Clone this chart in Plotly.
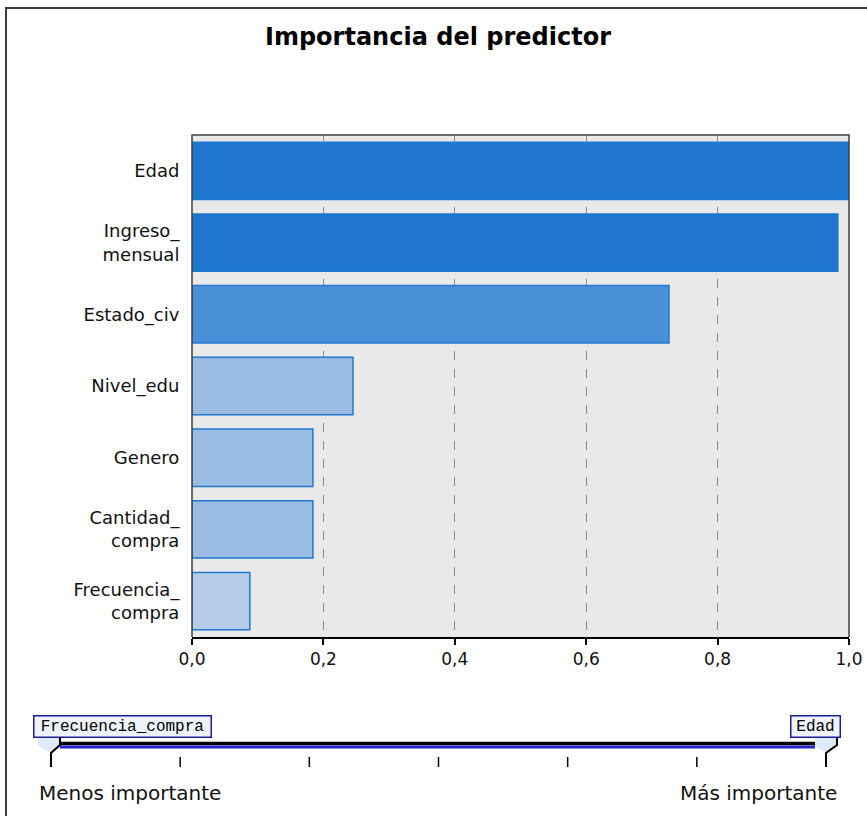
import plotly.graph_objects as go

# ---- data ----
predictors = ["Edad", "Ingreso_<br>mensual", "Estado_civ", "Nivel_edu", "Genero",
              "Cantidad_<br>compra", "Frecuencia_<br>compra"]
importance = [1.0, 0.983, 0.726, 0.245, 0.184, 0.184, 0.088]
bar_colors = ["#1e76cf", "#1e76cf", "#4a90d8", "#9cbde3", "#9cbde3", "#9cbde3", "#b5cce8"]
x_ticks = [0.0, 0.2, 0.4, 0.6, 0.8, 1.0]
least_label = "Frecuencia_compra"
most_label = "Edad"
title_text = "Importancia del predictor"
less_text = "Menos importante"
more_text = "Más importante"

W, H = 867, 816
def px(x):
    return x / W
def py(y):
    return 1 - y / H

fig = go.Figure()
fig.add_trace(go.Bar(
    x=importance, y=predictors, orientation="h",
    marker=dict(color=bar_colors, line=dict(color="#1e78d2", width=1.5)),
    hoverinfo="x+y",
))

FONT = "DejaVu Sans"
shapes = []
# outer frame
shapes.append(dict(type="rect", xref="paper", yref="paper",
                   x0=px(6), x1=1.05, y0=-0.05, y1=py(8),
                   line=dict(color="#3c3c3c", width=2), layer="below"))

# importance scale decoration
shapes.append(dict(type="path", xref="paper", yref="paper",
                   path=f"M {px(38)} {py(736)} L {px(60)} {py(736)} L {px(60)} {py(745)} L {px(51)} {py(753)} L {px(38)} {py(746)} Z",
                   fillcolor="#dfeaf8", line=dict(width=0)))
shapes.append(dict(type="path", xref="paper", yref="paper",
                   path=f"M {px(815)} {py(736)} L {px(837)} {py(736)} L {px(837)} {py(745)} L {px(826)} {py(753)} L {px(815)} {py(746)} Z",
                   fillcolor="#dfeaf8", line=dict(width=0)))
shapes.append(dict(type="line", xref="paper", yref="paper",
                   x0=px(60), x1=px(815), y0=py(743.5), y1=py(743.5),
                   line=dict(color="#000000", width=3.5)))
shapes.append(dict(type="line", xref="paper", yref="paper",
                   x0=px(60), x1=px(815), y0=py(747), y1=py(747),
                   line=dict(color="#2424c8", width=3)))
shapes.append(dict(type="path", xref="paper", yref="paper",
                   path=f"M {px(60)} {py(737)} L {px(60)} {py(745)} L {px(51)} {py(753)} L {px(51)} {py(767)}",
                   line=dict(color="#000000", width=2)))
shapes.append(dict(type="path", xref="paper", yref="paper",
                   path=f"M {px(837)} {py(737)} L {px(837)} {py(745)} L {px(826)} {py(753)} L {px(826)} {py(767)}",
                   line=dict(color="#000000", width=2)))
n_ticks = 7
for i in range(1, n_ticks - 1):
    xx = 51 + (826 - 51) * i / (n_ticks - 1)
    shapes.append(dict(type="line", xref="paper", yref="paper",
                       x0=px(xx), x1=px(xx), y0=py(757), y1=py(767),
                       line=dict(color="#000000", width=1.5)))
# plot border (top/left/right)
shapes.append(dict(type="path", xref="paper", yref="paper",
                   path=f"M {px(192)} {py(637)} L {px(192)} {py(135)} L {px(849)} {py(135)} L {px(849)} {py(637)}",
                   line=dict(color="#404040", width=1.5)))

annotations = [
    dict(text=f"<b>{title_text}</b>", xref="paper", yref="paper", x=px(438), y=py(37),
         xanchor="center", yanchor="middle", showarrow=False,
         font=dict(family=FONT, size=24, color="#000")),
    dict(text=least_label, xref="paper", yref="paper", x=px(33), y=py(726),
         xanchor="left", yanchor="middle", showarrow=False, width=174, align="center",
         font=dict(family="Liberation Mono", size=16, color="#000"),
         bgcolor="#eef3fb", bordercolor="#1c1c96", borderwidth=1.5, borderpad=1),
    dict(text=most_label, xref="paper", yref="paper", x=px(841), y=py(726),
         xanchor="right", yanchor="middle", showarrow=False, width=46, align="center",
         font=dict(family="Liberation Mono", size=16, color="#000"),
         bgcolor="#eef3fb", bordercolor="#1c1c96", borderwidth=1.5, borderpad=1),
    dict(text=less_text, xref="paper", yref="paper", x=px(37), y=py(793),
         xanchor="left", yanchor="middle", showarrow=False,
         font=dict(family=FONT, size=20, color="#111")),
    dict(text=more_text, xref="paper", yref="paper", x=px(839), y=py(793),
         xanchor="right", yanchor="middle", showarrow=False,
         font=dict(family=FONT, size=20, color="#111")),
]

fig.update_layout(
    width=W, height=H,
    margin=dict(l=0, r=0, t=0, b=0),
    paper_bgcolor="white",
    plot_bgcolor="#e9e9e9",
    showlegend=False,
    bargap=0.2,
    separators=",.",
    font=dict(family=FONT, size=17, color="#111"),
    shapes=shapes,
    annotations=annotations,
    xaxis=dict(
        domain=[px(192), px(849)], range=[0, 1],
        tickvals=x_ticks, tickformat=".1f",
        ticks="outside", ticklen=6, tickcolor="#000", tickwidth=1.5,
        showline=True, linecolor="#000", linewidth=2, mirror=False,
        showgrid=True, gridcolor="#8a8a8a", griddash="dash", gridwidth=1,
        zeroline=False, automargin=False,
        tickfont=dict(family=FONT, size=17, color="#111"),
    ),
    yaxis=dict(
        domain=[py(637), py(135)],
        categoryorder="array", categoryarray=predictors, autorange="reversed",
        showline=False, showgrid=False, zeroline=False,
        ticks="outside", ticklen=8, tickcolor="rgba(0,0,0,0)",
        automargin=False,
        tickfont=dict(family=FONT, size=18, color="#111"),
    ),
)

fig.write_html("out.html", config={"displayModeBar": False},
               post_script="document.body.style.margin='0px';document.body.style.overflow='hidden';")
